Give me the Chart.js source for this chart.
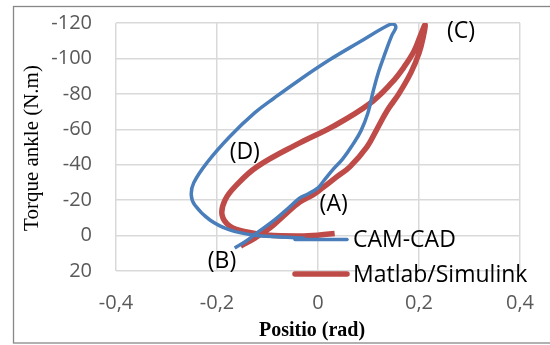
<!DOCTYPE html>
<html><head><meta charset="utf-8">
<script src="https://cdn.jsdelivr.net/npm/chart.js@4"></script>
<style>html,body{margin:0;padding:0;background:#fff;}canvas{display:block}</style>
</head><body>
<canvas id="c" width="550" height="345"></canvas>
<script>
const seriesNames = ['CAM-CAD', 'Matlab/Simulink'];

const camX = [-0.165, -0.145, -0.121, -0.086, -0.056, -0.036, -0.020, 0.000, 0.011, 0.029, 0.049, 0.069, 0.085, 0.099, 0.109, 0.120, 0.134, 0.146, 0.154, 0.150, 0.138, 0.083, 0.023, -0.036, -0.086, -0.125, -0.175, -0.220, -0.246, -0.251, -0.244, -0.214, -0.175, -0.129, -0.076, -0.026];
const camY = [7.0, 3.6, -1.5, -8.8, -16.2, -21.3, -23.5, -26.9, -30.8, -37.1, -43.3, -51.5, -59.1, -69.3, -81.2, -92.5, -103.8, -112.9, -117.4, -119.3, -118.6, -109.4, -99.2, -88.0, -77.8, -69.4, -55.8, -41.1, -29.8, -23.0, -17.3, -8.8, -3.2, -0.3, 0.8, 1.4];

const simX = [-0.153, -0.125, -0.095, -0.066, -0.036, -0.010, 0.009, 0.037, 0.063, 0.097, 0.116, 0.138, 0.160, 0.184, 0.200, 0.209, 0.212, 0.203, 0.190, 0.170, 0.146, 0.102, 0.029, -0.036, -0.121, -0.161, -0.184, -0.190, -0.175, -0.141, -0.101, -0.036, 0.003, 0.033];
const simY = [5.9, 1.4, -4.3, -11.7, -19.0, -23.0, -26.9, -33.1, -38.8, -50.1, -59.7, -71.0, -80.0, -92.0, -103.0, -113.0, -119.0, -113.0, -104.0, -95.0, -86.3, -74.4, -61.5, -52.3, -38.8, -28.6, -20.1, -11.7, -5.4, -2.0, -0.3, 0.2, -0.3, -1.2];

const xTicks = [-0.4, -0.2, 0, 0.2, 0.4];
const xTickLabels = ['-0,4', '-0,2', '0', '0,2', '0,4'];
const yTicks = [-120, -100, -80, -60, -40, -20, 0, 20];
const yTickLabels = ['-120', '-100', '-80', '-60', '-40', '-20', '0', '20'];

const xTitle = 'Positio (rad)';
const yTitle = 'Torque ankle (N.m)';

const noteLabels = ['(A)', '(B)', '(C)', '(D)'];
const noteX = [0.031, -0.190, 0.283, -0.145];
const noteY = [-17.3, 14.4, -115.2, -46.7];

const BLUE = '#4A7EBB';
const RED = '#BE4B48';

function toPts(xs, ys) { return xs.map((x, i) => ({ x: x, y: ys[i] })); }
function labelFor(arr, labels, v) {
  for (let i = 0; i < arr.length; i++) if (Math.abs(arr[i] - v) < 1e-6) return labels[i];
  return '';
}

const deco = {
  id: 'deco',
  beforeDraw(chart) {
    const ctx = chart.ctx;
    ctx.save();
    ctx.fillStyle = '#fff';
    ctx.fillRect(0, 0, chart.width, chart.height);
    ctx.restore();
  },
  afterDraw(chart) {
    const ctx = chart.ctx;
    const xs = chart.scales.x, ys = chart.scales.y;
    ctx.save();
    ctx.strokeStyle = '#878787';
    ctx.lineWidth = 1.3;
    ctx.strokeRect(13.5, 6.5, 560, 336.5);

    ctx.fillStyle = '#000';
    ctx.textAlign = 'center';
    ctx.textBaseline = 'middle';
    ctx.font = 'bold 20px "Liberation Serif"';
    ctx.fillText(xTitle, 312, 331);
    ctx.save();
    ctx.translate(32, 148);
    ctx.rotate(-Math.PI / 2);
    ctx.font = '21px "Liberation Serif"';
    ctx.fillText(yTitle, 0, 0);
    ctx.restore();

    ctx.font = '23px "Open Sans"';
    noteLabels.forEach((t, i) => {
      ctx.fillText(t, xs.getPixelForValue(noteX[i]), ys.getPixelForValue(noteY[i]));
    });

    // legend
    const items = [{ c: BLUE, w: 3.5, y: 239.5 }, { c: RED, w: 5.5, y: 274 }];
    items.forEach((it, i) => {
      ctx.beginPath();
      ctx.strokeStyle = it.c;
      ctx.lineWidth = it.w;
      ctx.lineCap = 'round';
      ctx.moveTo(295, it.y);
      ctx.lineTo(347, it.y);
      ctx.stroke();
      ctx.textAlign = 'left';
      ctx.fillStyle = '#000';
      ctx.fillText(seriesNames[i], 353, it.y + 1);
    });
    ctx.restore();
  }
};

new Chart(document.getElementById('c'), {
  type: 'scatter',
  data: {
    datasets: [
      { label: seriesNames[0], data: toPts(camX, camY), showLine: true, borderColor: BLUE, backgroundColor: BLUE, borderWidth: 3.5, pointRadius: 0, tension: 0.4, fill: false },
      { label: seriesNames[1], data: toPts(simX, simY), showLine: true, borderColor: RED, backgroundColor: RED, borderWidth: 5.5, pointRadius: 0, tension: 0.4, fill: false }
    ]
  },
  options: {
    responsive: false,
    animation: false,
    devicePixelRatio: 1,
    layout: { padding: { left: 0, top: 23, right: 30, bottom: 0 } },
    plugins: { legend: { display: false }, tooltip: { enabled: false } },
    scales: {
      x: {
        type: 'linear', min: -0.4, max: 0.4,
        afterBuildTicks: (s) => { s.ticks = xTicks.map(v => ({ value: v })); },
        afterFit: (s) => { s.height = 74; s.paddingLeft = 0; s.paddingRight = 0; },
        grid: { color: '#D9D9D9', lineWidth: 1.5, drawTicks: false },
        border: { display: false },
        ticks: { padding: 20, color: '#595959', font: { family: 'Open Sans', size: 20 }, callback: (v) => labelFor(xTicks, xTickLabels, v), maxRotation: 0 }
      },
      y: {
        type: 'linear', min: -120, max: 20, reverse: true,
        afterBuildTicks: (s) => { s.ticks = yTicks.map(v => ({ value: v })); },
        afterFit: (s) => { s.width = 116; s.paddingTop = 0; s.paddingBottom = 0; },
        grid: { color: '#D9D9D9', lineWidth: 1.5, drawTicks: false },
        border: { display: false },
        ticks: { padding: 24, color: '#595959', font: { family: 'Open Sans', size: 20 }, callback: (v) => labelFor(yTicks, yTickLabels, v) }
      }
    }
  },
  plugins: [deco]
});
</script>
</body></html>
